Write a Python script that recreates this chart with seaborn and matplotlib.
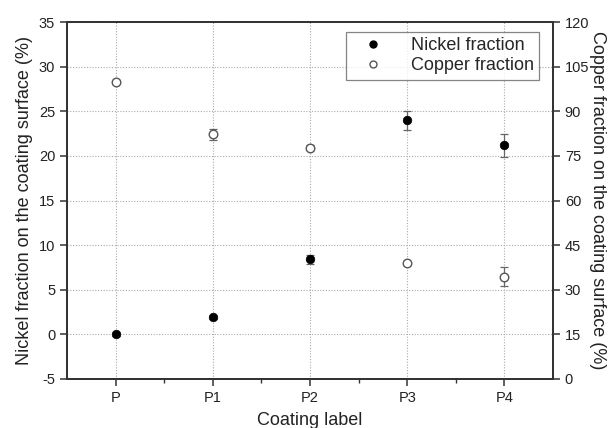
import matplotlib
matplotlib.use("Agg")
import matplotlib.pyplot as plt
import seaborn as sns
import numpy as np
from matplotlib.ticker import MultipleLocator, FixedLocator
from matplotlib.lines import Line2D

labels = ["P", "P1", "P2", "P3", "P4"]
nickel = [0.0, 1.9, 8.4, 24.0, 21.2]
nickel_err = [0.15, 0.2, 0.5, 1.05, 1.3]
copper = [100.0, 82.2, 77.8, 39.0, 34.3]
copper_err = [0.5, 1.9, 0.8, 0.6, 3.2]

sns.set_style("ticks")
plt.rcParams['font.family'] = ['Liberation Sans', 'DejaVu Sans']
plt.rcParams['axes.unicode_minus'] = False

fig = plt.figure(figsize=(6.14, 4.28), dpi=100)
ax = fig.add_axes([67/614, 1 - 379/428, (553-67)/614, (379-22)/428])
ax2 = ax.twinx()

xpos = np.arange(len(labels))

ax.errorbar(xpos, nickel, yerr=nickel_err, fmt='none', ecolor='#666666',
            elinewidth=0.9, capsize=2.6, capthick=0.9, zorder=2)
sns.scatterplot(x=xpos, y=nickel, ax=ax, color='black', edgecolor='black',
                s=38, marker='o', zorder=3, legend=False)

ax2.errorbar(xpos, copper, yerr=copper_err, fmt='none', ecolor='#666666',
             elinewidth=0.9, capsize=2.6, capthick=0.9, zorder=2)
sns.scatterplot(x=xpos, y=copper, ax=ax2, facecolor='white', edgecolor='#555555',
                linewidth=1.0, s=38, marker='o', zorder=3, legend=False)

ax.set_xlim(-0.5, 4.5)
ax.set_ylim(-5, 35)
ax2.set_ylim(0, 120)
ax.yaxis.set_major_locator(MultipleLocator(5))
ax2.yaxis.set_major_locator(MultipleLocator(15))
ax.set_xticks(xpos)
ax.set_xticklabels(labels)
ax.xaxis.set_minor_locator(FixedLocator(xpos[:-1] + 0.5))

ax.grid(True, which='major', color='#aaaaaa', linestyle=(0, (1, 1.5)), linewidth=0.8)
ax.set_axisbelow(True)

for a in (ax, ax2):
    for s in a.spines.values():
        s.set_color('#333333')
        s.set_linewidth(1.3)
ax.tick_params(axis='both', which='major', direction='out', length=5, width=1.1,
               color='#333333', labelsize=10.5, labelcolor='#222222')
ax.tick_params(axis='x', which='minor', direction='out', length=3, width=1.0, color='#333333')
ax2.tick_params(axis='y', direction='out', length=5, width=1.1, color='#333333',
                labelsize=10.5, labelcolor='#222222')

ax.set_xlabel("Coating label", fontsize=13, color='#222222', labelpad=5)
ax.set_ylabel("Nickel fraction on the coating surface (%)", fontsize=13, color='#222222', labelpad=4)
ax2.set_ylabel("Copper fraction on the coating surface (%)", fontsize=13, color='#222222',
               rotation=270, labelpad=12)

handles = [
    Line2D([], [], linestyle='none', marker='o', markersize=5, markerfacecolor='black',
           markeredgecolor='black', label='Nickel fraction'),
    Line2D([], [], linestyle='none', marker='o', markersize=5, markerfacecolor='white',
           markeredgecolor='#555555', label='Copper fraction'),
]
leg = ax2.legend(handles=handles, loc='upper right',
                 bbox_to_anchor=(539/614, 1 - 32/428), bbox_transform=fig.transFigure,
                 fontsize=13, frameon=True, fancybox=False, edgecolor='#666666',
                 borderaxespad=0, handlelength=2.4, handletextpad=0.9,
                 borderpad=0.3, labelspacing=0.15)
leg.get_frame().set_linewidth(0.9)

fig.savefig("out.png", dpi=100)
